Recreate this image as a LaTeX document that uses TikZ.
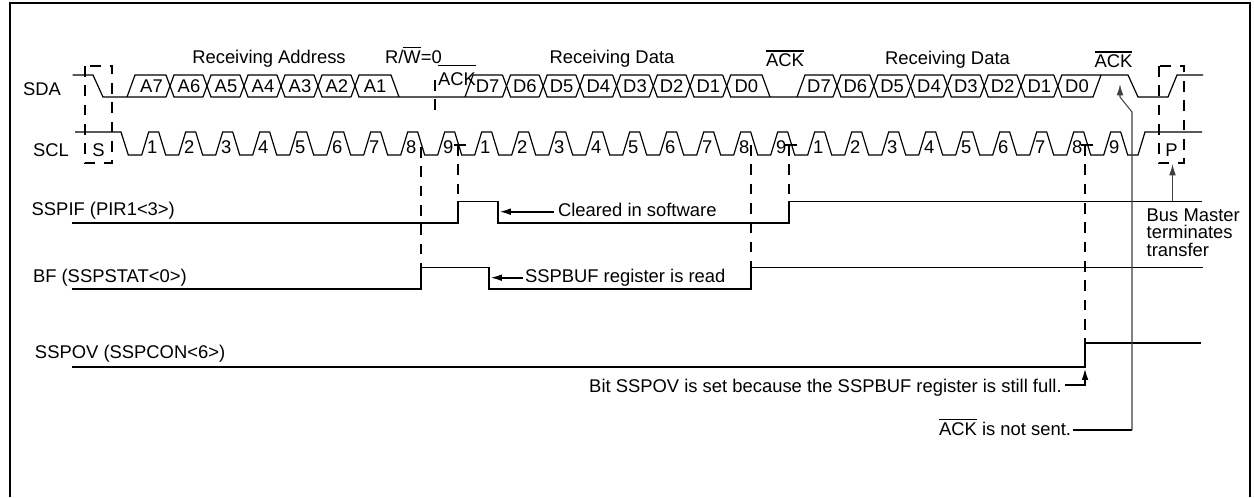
\documentclass[tikz,border=0pt]{standalone}
\usepackage{fontspec}
\setmainfont{Liberation Sans}
\usetikzlibrary{arrows.meta}
\newcommand\ovl[2][1.6pt]{\vbox{\hrule height 0.8pt\kern#1\hbox{#2}}}
\begin{document}
\begin{tikzpicture}[x=0.75pt,y=-0.75pt,
  every node/.style={font=\fontsize{13.8pt}{16pt}\selectfont,inner sep=0pt,outer sep=0pt},
  sig/.style={line width=0.9pt},
  lvl/.style={line width=1.3pt},
  dsh/.style={line width=1.3pt,dash pattern=on 8pt off 6.5pt},
  arr/.style={line width=1.2pt,-{Latex[length=8.5pt,width=5pt]}},
  thinarr/.style={line width=0.8pt,black!75,-{Latex[length=8.5pt,width=5pt]}},
  lbl/.style={anchor=base west},
  lbr/.style={anchor=base east},
  bit/.style={anchor=base},
]
\useasboundingbox (0,0) rectangle (1254,497);
% frame
\draw[line width=2pt] (10,497) -- (10,3) -- (1250,3) -- (1250,497);

% signal names
\node[lbl] (sdal) at (23,95.5) {SDA};
\node[lbl] (scll) at (33,156.5) {SCL};
\node[lbl] (sspifl) at (31.7,215) {SSPIF (PIR1<3>)};
\node[lbl] (bfl) at (33,282.7) {BF (SSPSTAT<0>)};
\node[lbl] (sspovl) at (35,358.5) {SSPOV (SSPCON<6>)};

% top labels
\node[bit] (ra) at (269,63) {Receiving Address};
\node[lbl] (rw) at (385,63) {R/\ovl{W}=0};
\node[bit] (rd1) at (612,63) {Receiving Data};
\node[bit] (ack2) at (785,66.5) {\ovl{ACK}};
\node[bit] (rd2) at (947.5,64) {Receiving Data};
\node[bit] (ack3) at (1113.5,67.5) {\ovl{ACK}};
\node[bit] (ack1) at (457,85) {\ovl[4.3pt]{ACK}};

% start / stop boxes
\draw[dsh] (85,66) rectangle (112,163);
\draw[dsh] (1159,66) rectangle (1184,163);
\node[bit] (s) at (98.5,156.5) {S};
\node[bit] (p) at (1171.5,156.5) {P};

% SDA
\draw[sig] (72.7,75) -- (93,75) -- (103,97) -- (166,97);
\draw[sig] (127,97) -- (135,75) -- (166,75);
\foreach \c in {170,207,244,281,318} {
  \draw[sig] (\c-4,75) -- (\c+4,97) -- (\c+33,97);
  \draw[sig] (\c-4,97) -- (\c+4,75) -- (\c+33,75);
}
\draw[sig] (351,75) -- (359,97) -- (502.5,97);
\draw[sig] (351,97) -- (359,75) -- (391,75) -- (399,97);
\draw[sig] (465,97) -- (473,75) -- (502.5,75);
\foreach \k in {0,...,5} {
  \pgfmathsetmacro\c{506.5+36.7*\k}
  \draw[sig] (\c-4,75) -- (\c+4,97) -- (\c+32.7,97);
  \draw[sig] (\c-4,97) -- (\c+4,75) -- (\c+32.7,75);
}
\draw[sig] (722.7,75) -- (730.7,97) -- (833,97);
\draw[sig] (722.7,97) -- (730.7,75) -- (762,75) -- (770,97);
\draw[sig] (797,97) -- (805,75) -- (833,75);
\foreach \k in {0,...,5} {
  \pgfmathsetmacro\c{837+36.8*\k}
  \draw[sig] (\c-4,75) -- (\c+4,97) -- (\c+32.8,97);
  \draw[sig] (\c-4,97) -- (\c+4,75) -- (\c+32.8,75);
}
\draw[sig] (1053.8,75) -- (1061.8,97) -- (1093,97) -- (1101,75);
\draw[sig] (1053.8,97) -- (1061.8,75) -- (1128,75) -- (1138,97) -- (1168,97) -- (1177,75) -- (1203,75);

% SDA bit labels
\foreach \t/\x [count=\n] in {A7/151.5,A6/189,A5/226,A4/263,A3/300,A2/336.8,A1/375,
  D7/487.7,D6/524.9,D5/561.6,D4/598.3,D3/635,D2/671.7,D1/708.4,D0/746.3,
  D7/819,D6/855.4,D5/892.2,D4/929,D3/965.8,D2/1002.6,D1/1039.4,D0/1077}
  {\node[bit] (b\n) at (\x,92.6) {\t};}

% SCL
\draw[sig] (75,132) -- (121,132) -- (128.3,155)
  foreach \i in {0,...,26} { -- ({141.7+37*\i},155) -- ({148.7+37*\i},132) -- ({158.7+37*\i},132) -- ({165.7+37*\i},155) }
  -- (1138,155) -- (1145,132) -- (1202,132);
\foreach \i in {0,...,26} {
  \pgfmathtruncatemacro\d{mod(\i,9)+1}
  \node[bit] (c\i) at ({152.2+37*\i},153.5) {\d};
}
% ticks
\draw[sig] (454,145) -- (466,145);
\draw[sig] (785,145) -- (797,145);
\draw[sig] (1081,145) -- (1093,145);

% status signals
\draw[lvl] (71.7,222.7) -- (458,222.7) -- (458,201.5) -- (498.3,201.5) -- (498.3,222.7) -- (789,222.7) -- (789,201.5) -- (1202,201.5);
\draw[lvl] (71.7,289.3) -- (420.7,289.3) -- (420.7,267.5) -- (489.3,267.5) -- (489.3,289.3) -- (751,289.3) -- (751,267.5) -- (1203,267.5);
\draw[lvl] (72,367) -- (1085,367) -- (1085,343) -- (1201,343);

% dashed guides
\draw[dsh] (435,80) -- (435,118);
\draw[dsh] (420.7,147) -- (420.7,267.5);
\draw[dsh] (458,145) -- (458,201.5);
\draw[dsh] (751,145) -- (751,267.5);
\draw[dsh] (789,145) -- (789,201.5);
\draw[dsh] (1085,145) -- (1085,343);

% annotations
\node[lbl,inner xsep=3pt] (clr) at (554,216) {Cleared in software};
\coordinate (clrtip) at (499.5,211.7);
\draw[arr] (clr.west |- clrtip) -- (clrtip);

\node[lbl,inner xsep=1.5pt] (rd) at (523,282.7) {SSPBUF register is read};
\coordinate (rdtip) at (490.5,277.7);
\draw[arr] (rd.west |- rdtip) -- (rdtip);

\node[lbr,inner xsep=2.5pt] (bit) at (1065,392) {Bit SSPOV is set because the SSPBUF register is still full.};
\coordinate (bitc) at (1085,385);
\coordinate (bittip) at (1085,368.5);
\draw[arr] (bit.east |- bitc) -- (bitc) -- (bittip);

\node[lbr,inner xsep=1.5pt] (nack) at (1073,435) {\ovl{ACK} is not sent.};
\coordinate (nc) at (1132,430);
\coordinate (nb) at (1132,112);
\coordinate (nd) at (1120,97);
\coordinate (ntip) at (1120,84);
\draw[line width=1.2pt] (nack.east |- nc) -- (nc);
\draw[thinarr] (nc) -- (nb) -- (nd) -- (ntip);

\node[lbl] (bm1) at (1146.7,221.7) {Bus Master};
\node[lbl] (bm2) at (1146.7,238.6) {terminates};
\node[lbl] (bm3) at (1146.7,256) {transfer};
\coordinate (ptail) at (1172.5,201);
\coordinate (ptip) at (1172.5,164);
\draw[thinarr] (ptail) -- (ptip);
\end{tikzpicture}
\end{document}
